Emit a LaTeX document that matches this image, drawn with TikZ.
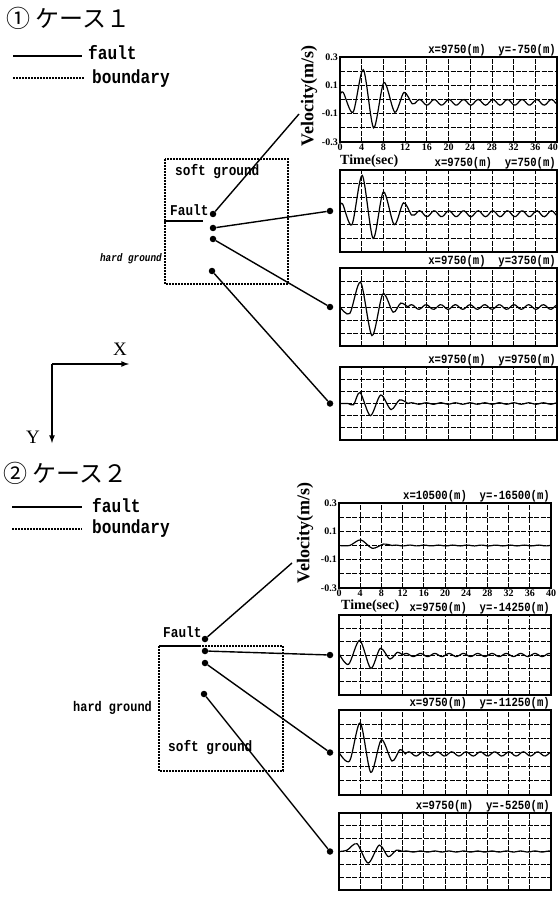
\documentclass[tikz,border=0pt]{standalone}
\usepackage{fontspec}
\setmainfont{Liberation Serif}
\newfontfamily\jpfont{Noto Sans CJK JP}
\newfontfamily\labfont[FakeStretch=0.85]{Liberation Mono}

\tikzset{
	dot/.style={circle,fill,inner sep=0pt,minimum size=6.5pt},
	link/.style={line width=1.4pt},
	faultline/.style={line width=2.6pt},
	boundline/.style={line width=1.6pt,dash pattern=on 1.6pt off 1.4pt},
	framebox/.style={line width=1.5pt},
	gridline/.style={line width=0.8pt,dash pattern=on 5pt off 1.5pt},
	trace/.style={line width=1.2pt},
	poslabel/.style={font=\labfont\bfseries\fontsize{12.5}{13}\selectfont,inner sep=1pt},
	ticklabel/.style={font=\bfseries\fontsize{10}{11}\selectfont,inner sep=1pt},
	maplabel/.style={font=\labfont\bfseries\fontsize{15}{16}\selectfont,inner sep=0pt},
	legendlabel/.style={font=\labfont\bfseries\fontsize{19}{20}\selectfont,inner sep=0pt},
	casetitle/.style={font=\jpfont\fontsize{24}{28}\selectfont,inner sep=0pt},
	axislabel/.style={font=\bfseries\fontsize{18}{20}\selectfont,inner sep=0pt},
	timelabel/.style={font=\bfseries\fontsize{14}{15}\selectfont,inner sep=0pt},
	axisarrow/.style={line width=1.6pt,-latex}
}

%% one velocity record: left, right, top, bottom, label, wave, tail start, tail offset, tail amplitude
\newcommand\velbox[9]{%
	\pgfmathsetmacro\vbx{(#2-#1)/40}
	\pgfmathsetmacro\vby{(#4-#3)/0.6}
	\begin{scope}[shift={(#1,{(#3+#4)/2})},x=\vbx pt,y=\vby pt]
		\foreach \t in {4,8,...,36}
			\draw[gridline] (\t,-0.3) -- (\t,0.3);
		\foreach \v in {-0.2,-0.1,0,0.1,0.2}
			\draw[gridline] (0,\v) -- (40,\v);
		\draw[framebox] (0,-0.3) rectangle (40,0.3);
		\node[poslabel,anchor=south east] (poslab) at (40,0.3) {#5};
		\draw[trace] plot[smooth] coordinates {#6}
			-- plot[domain=#7:40,samples=80,smooth] (\x,{#8+#9*sin(360*(\x-#7)/2.7)});
	\end{scope}
}

\begin{document}
\begin{tikzpicture}[x=1pt,y=-1pt]
	\useasboundingbox (0,0) rectangle (559,901);

	%% ---------------- case 1 ----------------
	\node[casetitle,anchor=base west] (title1) at (6,28) {① ケース１};
	\draw[faultline] (13,56) -- (82,56);
	\node[legendlabel,anchor=base west] (fault1) at (88,60) {fault};
	\draw[boundline] (13,78) -- (84,78);
	\node[legendlabel,anchor=base west] (bound1) at (92,84) {boundary};

	% map
	\draw[boundline] (165,159) rectangle (288,284);
	\draw[faultline] (164,221) -- (203,221);
	\node[maplabel,anchor=base west] (soft1) at (175,176) {soft ground};
	\node[maplabel,anchor=base west] (flt1) at (170,215) {Fault};
	\node[maplabel,anchor=base east,font=\labfont\bfseries\itshape\fontsize{11}{12}\selectfont] (hard1) at (162,261) {hard ground};
	\node[dot] (m1a) at (213,214) {};
	\node[dot] (m1b) at (213,228) {};
	\node[dot] (m1c) at (213,239) {};
	\node[dot] (m1d) at (212,271) {};

	% records
	\velbox{340}{557}{57}{142}{x=9750(m)\ \ y=-750(m)}
		{(0,0.03) (0.6,0.05) (2.4,-0.09) (4.3,0.21) (6.2,-0.2) (8.1,0.12) (10.1,-0.09) (11.8,0.05) (13.3,-0.03) (14,-0.02)}{14}{-0.02}{0.02}
	\velbox{340}{557}{170}{252}{x=9750(m)\ \ y=750(m)}
		{(0,0.04) (0.5,0.05) (2.2,-0.1) (4.1,0.26) (6.1,-0.2) (8,0.14) (10,-0.1) (11.7,0.06) (13.2,-0.03) (14,-0.02)}{14}{-0.02}{0.022}
	\velbox{340}{557}{268}{346}{x=9750(m)\ \ y=3750(m)}
		{(0,0) (1.8,-0.05) (3.8,0.19) (5.9,-0.22) (7.9,0.1) (9.8,-0.04) (11.2,0.03) (12.5,0)}{12.5}{0}{0.018}
	\velbox{340}{557}{367}{440}{x=9750(m)\ \ y=9750(m)}
		{(0,0) (1.5,0) (2.5,-0.01) (3.7,0.09) (5.6,-0.1) (7.5,0.07) (9.4,-0.05) (11,0.03) (12.5,0)}{12.5}{0}{0.006}

	% axes of the first record
	\foreach \v/\y [count=\i] in {0.3/57,0.1/85.3,-0.1/113.7,-0.3/142}
		\node[ticklabel,anchor=east] (yt1-\i) at (339,\y) {\v};
	\foreach \t [count=\i from 0] in {0,4,...,36}
		\node[ticklabel,anchor=north] (xt1-\i) at ({340+\i*21.7},143) {\t};
	\node[ticklabel,anchor=north east] (xt1-10) at (559,143) {40};
	\node[timelabel,anchor=west] (time1) at (340,161) {Time(sec)};
	\node[axislabel,rotate=90] (vel1) at (309,96) {Velocity(m/s)};

	% plot side ends
	\coordinate (e1a) at (299,114);
	\node[dot] (p1b) at (330,211) {};
	\node[dot] (p1c) at (330,307) {};
	\node[dot] (p1d) at (330,403.5) {};
	\draw[link] (m1a) -- (e1a);
	\draw[link] (m1b) -- (p1b);
	\draw[link] (m1c) -- (p1c);
	\draw[link] (m1d) -- (p1d);

	%% X / Y directions
	\coordinate (orig) at (52,364);
	\coordinate (xend) at (129,364);
	\coordinate (yend) at (52,443);
	\draw[axisarrow] (orig) -- (xend);
	\draw[axisarrow] (orig) -- (yend);
	\node[font=\fontsize{19}{20}\selectfont] (X) at (120,349) {X};
	\node[font=\fontsize{19}{20}\selectfont] (Y) at (33,437) {Y};

	%% ---------------- case 2 ----------------
	\node[casetitle,anchor=base west] (title2) at (3,482) {② ケース２};
	\draw[faultline] (12,507) -- (82,507);
	\node[legendlabel,anchor=base west] (fault2) at (92,512) {fault};
	\draw[boundline] (12,529) -- (82,529);
	\node[legendlabel,anchor=base west] (bound2) at (92,533) {boundary};

	% map
	\draw[boundline] (159,646) rectangle (283,771);
	\draw[faultline] (159,646) -- (200,646);
	\node[maplabel,anchor=base west] (flt2) at (163,637) {Fault};
	\node[maplabel,anchor=base west] (soft2) at (168,751) {soft ground};
	\node[maplabel,anchor=base east,font=\labfont\bfseries\fontsize{14}{15}\selectfont] (hard2) at (152,711) {hard ground};
	\node[dot] (m2a) at (205,639) {};
	\node[dot] (m2b) at (205,651) {};
	\node[dot] (m2c) at (205,663) {};
	\node[dot] (m2d) at (204,694) {};

	% records
	\velbox{339}{551}{503}{588}{x=10500(m)\ \ y=-16500(m)}
		{(0,0) (2,0) (4.1,0.04) (6.3,-0.02) (8.4,0.01) (10,0)}{10}{0}{0.003}
	\velbox{339}{551}{615}{695}{x=9750(m)\ \ y=-14250(m)}
		{(0,0.01) (1.8,-0.07) (3.9,0.11) (6,-0.1) (7.8,0.05) (9.6,-0.03) (11,0.02) (12,0)}{12}{0}{0.012}
	\velbox{339}{551}{710}{795}{x=9750(m)\ \ y=-11250(m)}
		{(0,0) (2,-0.06) (4,0.21) (6,-0.14) (8,0.09) (10,-0.06) (11.5,0.02) (12.5,-0.01)}{12.5}{-0.01}{0.015}
	\velbox{339}{551}{813}{890}{x=9750(m)\ \ y=-5250(m)}
		{(0,0) (1.5,0.01) (3.4,0.06) (5.5,-0.09) (7.6,0.05) (9.3,-0.04) (10.8,0.01) (12,0)}{12}{0}{0.004}

	% axes of the first record
	\foreach \v/\y [count=\i] in {0.3/503,0.1/531.3,-0.1/559.7,-0.3/588}
		\node[ticklabel,anchor=east] (yt2-\i) at (338,\y) {\v};
	\foreach \t [count=\i from 0] in {0,4,...,40}
		\node[ticklabel,anchor=north] (xt2-\i) at ({339+\i*21.2},589) {\t};
	\node[timelabel,anchor=west] (time2) at (341,606) {Time(sec)};
	\node[axislabel,rotate=90] (vel2) at (305,533) {Velocity(m/s)};

	% plot side ends
	\coordinate (e2a) at (292,563);
	\node[dot] (p2b) at (330,655) {};
	\node[dot] (p2c) at (330,752.5) {};
	\node[dot] (p2d) at (330,851.5) {};
	\draw[link] (m2a) -- (e2a);
	\draw[link] (m2b) -- (p2b);
	\draw[link] (m2c) -- (p2c);
	\draw[link] (m2d) -- (p2d);
\end{tikzpicture}
\end{document}
